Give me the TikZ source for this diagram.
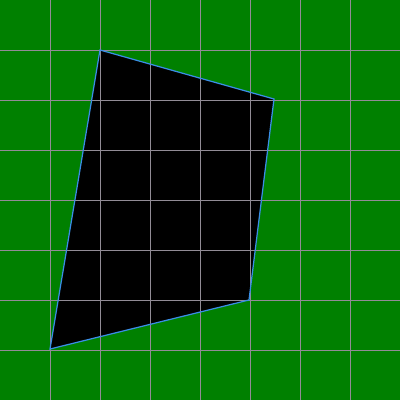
\documentclass[tikz,border=0pt]{standalone}
\usepackage{xcolor}
\definecolor{Field}{HTML}{008000}
\definecolor{GridGray}{HTML}{928C96}
\definecolor{Edge}{HTML}{3A8EE6}

\begin{document}
\begin{tikzpicture}[
  gridline/.style={GridGray,line width=0.5pt},
  outline/.style={Edge,line width=0.7pt,line join=miter}
]
\fill[Field] (0,0) rectangle (8,8);
\useasboundingbox (0,0) rectangle (8,8);
\coordinate (top) at (2,7);
\coordinate (right) at (5.48,6.02);
\coordinate (bottom) at (4.98,2);
\coordinate (left) at (1,1.02);
\fill[black] (top) -- (right) -- (bottom) -- (left) -- cycle;
\foreach \k in {1,...,7} {
  \draw[gridline] (\k,0) -- (\k,8);
  \draw[gridline] (0,\k) -- (8,\k);
}
\draw[outline] (top) -- (right) -- (bottom) -- (left) -- cycle;
\end{tikzpicture}
\end{document}
